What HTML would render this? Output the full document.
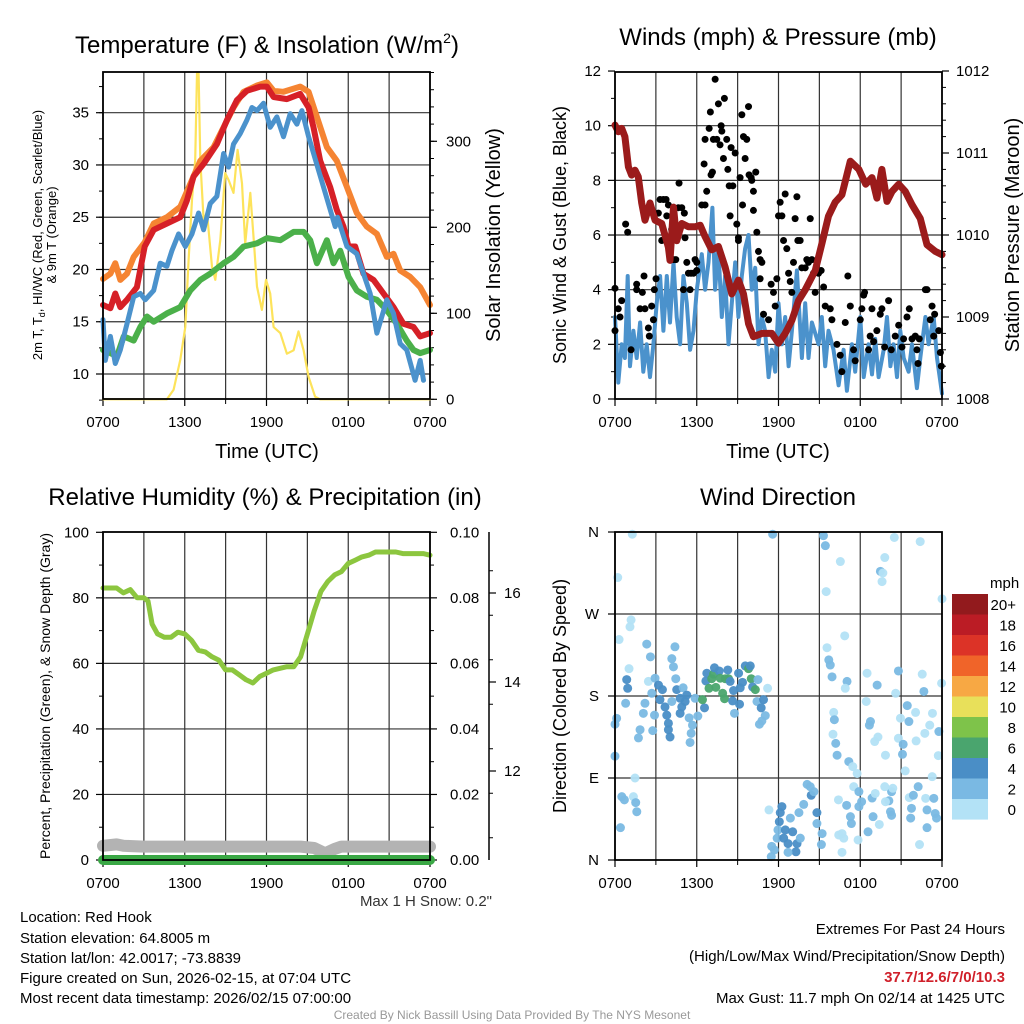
<!DOCTYPE html>
<html><head><meta charset="utf-8"><style>
html,body{margin:0;padding:0;background:#fff;}
svg{display:block;font-family:"Liberation Sans",Arial,sans-serif;}
</style></head><body>
<svg id="fig" width="1024" height="1024" viewBox="0 0 1024 1024" xmlns="http://www.w3.org/2000/svg">
<rect width="1024" height="1024" fill="#fff"/>
<g id="layer"></g>
<!-- titles -->
<text x="267" y="53" font-size="24" text-anchor="middle">Temperature (F) &amp; Insolation (W/m<tspan font-size="14" dy="-10">2</tspan><tspan dy="10">)</tspan></text>
<text x="778" y="45" font-size="24" text-anchor="middle">Winds (mph) &amp; Pressure (mb)</text>
<text x="265" y="505" font-size="24" text-anchor="middle">Relative Humidity (%) &amp; Precipitation (in)</text>
<text x="778" y="505" font-size="24" text-anchor="middle">Wind Direction</text>
<!-- axis titles -->
<text transform="translate(42,235) rotate(-90)" font-size="13" text-anchor="middle">2m T, T<tspan font-size="9" dy="3">d</tspan><tspan dy="-3">, HI/WC (Red, Green, Scarlet/Blue)</tspan></text>
<text transform="translate(56,235) rotate(-90)" font-size="13" text-anchor="middle">&amp; 9m T (Orange)</text>
<text transform="translate(500,235) rotate(-90)" font-size="20" text-anchor="middle">Solar Insolation (Yellow)</text>
<text x="267" y="458" font-size="20" text-anchor="middle">Time (UTC)</text>
<text transform="translate(566,235) rotate(-90)" font-size="18" text-anchor="middle">Sonic Wind &amp; Gust (Blue, Black)</text>
<text transform="translate(1019,235) rotate(-90)" font-size="20" text-anchor="middle">Station Pressure (Maroon)</text>
<text x="778" y="458" font-size="20" text-anchor="middle">Time (UTC)</text>
<text transform="translate(50,696) rotate(-90)" font-size="14" text-anchor="middle">Percent, Precipitation (Green), &amp; Snow Depth (Gray)</text>
<text transform="translate(566,696) rotate(-90)" font-size="18" text-anchor="middle">Direction (Colored By Speed)</text>
<text x="492" y="906" font-size="15" fill="#333" text-anchor="end">Max 1 H Snow: 0.2"</text>
<!-- colorbar labels -->
<text x="990" y="588" font-size="15">mph</text>
<!-- info block -->
<g font-size="15">
<text x="20" y="922">Location: Red Hook</text>
<text x="20" y="943">Station elevation: 64.8005 m</text>
<text x="20" y="963">Station lat/lon: 42.0017; -73.8839</text>
<text x="20" y="983">Figure created on Sun, 2026-02-15, at 07:04 UTC</text>
<text x="20" y="1003">Most recent data timestamp: 2026/02/15 07:00:00</text>
</g>
<g font-size="15" text-anchor="end">
<text x="1005" y="934">Extremes For Past 24 Hours</text>
<text x="1005" y="961">(High/Low/Max Wind/Precipitation/Snow Depth)</text>
<text x="1005" y="982" fill="#d0202a" font-weight="bold">37.7/12.6/7/0/10.3</text>
<text x="1005" y="1003">Max Gust: 11.7 mph On 02/14 at 1425 UTC</text>
</g>
<text x="512" y="1019" font-size="12" fill="#999" text-anchor="middle">Created By Nick Bassill Using Data Provided By The NYS Mesonet</text>
</svg>
<script>
// ---------- DATA ----------
const xTickLabels=["0700","1300","1900","0100","0700"];
const orangeT=[0,.54,.9,1.27,1.76,2.25,3.06,3.72,4.69,5.67,6.41,7.14,8.12,8.85,9.58,10.32,11.3,12.03,12.52,13.25,14.47,15.09,15.7,16.43,17.16,17.9,18.63,19.36,20.1,20.83,21.32,21.81,22.54,23.28,24];
const orangeV=[19.1,19.6,20.6,19,19.6,21.2,22.6,24.4,25,26,28.2,30.4,31.7,33.6,35.5,37,37.6,37.9,37.1,37,37.5,37,34.6,31.7,30.4,27.9,25.4,24.1,23.4,21.2,21.5,19.9,19.3,18.3,16.6];
const redT=[0,.54,.9,1.27,1.76,2.49,3.06,3.72,4.69,5.67,6.16,6.65,7.38,8.36,9.1,9.83,10.56,11.54,12.03,12.52,13.5,14.47,15.09,15.45,15.94,16.67,17.16,17.65,18.02,18.51,19.12,19.85,20.59,21.32,22.05,22.79,23.28,24];
const redV=[16.6,16.3,17.7,16.4,17.1,18.3,22.2,23.8,24.4,25,26.6,28.9,30.1,32,34.3,36.2,37.1,37.5,37.5,36.5,36.3,36.8,35.5,33.6,30.4,27.9,25.7,24.1,22.2,22.2,19.6,19,17.7,16.4,14.8,14.5,13.6,13.9];
const blueT=[0,.17,.54,.9,1.27,1.76,2.25,2.74,3.1,3.72,4.2,4.69,5.06,5.55,6.04,6.53,7.02,7.38,7.87,8.36,8.85,9.22,9.58,10.07,10.56,10.93,11.3,11.78,12.27,12.76,13.25,13.74,14.23,14.6,15.09,17.04,17.21,17.9,18.63,19.12,19.61,20.1,20.83,21.32,21.81,22.3,22.91,23.28,23.52];
const blueV=[15.2,11.3,13.6,11,12.3,14.8,17.4,17.7,17.1,18,20.6,20.3,21.8,23.4,22.2,23.4,25.4,23.8,26.3,27,31.1,29.8,32,33,34.3,35.5,35.2,35.9,33.6,34.6,32.7,34.9,33.9,35.2,32.7,24.1,25,22.2,21.5,19.6,17.7,13.9,17.1,15.8,12.9,12.3,9.4,11.3,9.4];
const greenT=[0,.54,1.03,1.52,2.25,2.74,3.23,3.72,4.69,5.67,6.41,7.14,7.87,8.85,9.58,10.32,11.3,12.03,13.01,13.99,14.72,15.21,15.7,16.43,16.92,17.41,18.02,18.63,19.36,20.1,20.83,21.56,22.3,22.79,23.28,24];
const greenV=[12.3,12,11.7,13.6,13.2,14.5,15.5,15,15.8,16.4,18,19,19.6,20.6,21.2,22.2,22.5,23,22.8,23.6,23.6,22.8,20.6,22.8,20.6,21.8,19.3,18,17.4,17.1,16.1,14.8,13.2,12.3,12,12.3];
const solarT=[0,4.69,5.18,5.67,6.04,6.28,6.53,6.77,6.9,7.02,7.14,7.38,7.63,8.0,8.24,8.61,8.97,9.22,9.58,9.88,10.2,10.44,10.81,11.1,11.3,11.66,11.96,12.27,12.52,13.01,13.5,13.99,14.35,14.72,15.09,15.57,15.94,24];
const solarV=[0,0,11,46,84,162,232,278,379,379,278,209,217,154,139,185,263,255,240,290,251,181,240,178,131,104,139,123,84,77,53,57,79,57,26,3,0,0];
const pressT=[0,.245,.49,.73,.98,1.22,1.47,1.71,1.96,2.2,2.57,2.94,3.43,3.92,4.04,4.29,4.53,4.9,5.39,5.88,6.25,6.61,7.1,7.59,8.08,8.57,9.06,9.43,9.8,10.16,10.78,11.51,12.0,12.49,12.98,13.47,13.96,14.7,15.19,15.67,16.16,16.65,17.27,17.9,18.4,18.86,19.22,19.59,19.96,20.33,20.82,21.31,21.8,22.41,22.9,23.51,24];
const pressV=[1011.34,1011.26,1011.3,1011.2,1010.83,1010.73,1010.79,1010.71,1010.39,1010.18,1010.39,1010.18,1010.14,1009.85,1009.69,1010.34,1009.93,1010.14,1010.1,1010.1,1010.12,1009.98,1009.82,1009.86,1009.61,1009.28,1009.45,1009.28,1008.92,1008.76,1008.8,1008.8,1008.68,1008.8,1008.96,1009.2,1009.33,1009.57,1009.9,1010.23,1010.4,1010.49,1010.9,1010.8,1010.62,1010.7,1010.45,1010.8,1010.41,1010.53,1010.62,1010.53,1010.37,1010.2,1009.88,1009.8,1009.76];
const windT=[0,.24,.49,.73,.93,1.1,1.35,1.59,1.84,2.08,2.33,2.57,2.82,3.06,3.31,3.55,3.8,4.04,4.29,4.53,4.78,5.02,5.27,5.51,5.76,6.0,6.37,6.61,6.86,7.15,7.35,7.59,7.84,8.08,8.33,8.57,8.82,9.06,9.31,9.55,9.8,10.04,10.29,10.53,10.78,11.02,11.27,11.51,11.76,12.0,12.25,12.49,12.74,12.98,13.35,13.72,13.96,14.2,14.45,14.94,15.18,15.43,15.67,16.04,16.41,16.78,17.02,17.39,17.63,18.0,18.25,18.61,18.86,19.1,19.35,19.72,19.96,20.21,20.45,20.7,20.94,21.19,21.55,21.8,22.16,22.41,22.78,23.02,23.39,23.63,24];
const windV=[3.0,0.6,2.0,1.5,4.5,1.2,2.5,1.5,2.8,1.0,2.0,0.8,2.0,3.5,4.5,2.5,4.5,2.8,5.0,3.0,2.0,4.5,3.5,1.8,2.5,4.0,5.3,4.0,5.0,7.0,4.0,5.5,3.0,4.5,2.0,3.5,5.0,3.0,4.5,5.5,6.0,4.0,4.8,2.0,3.0,2.5,0.8,1.8,1.0,3.5,2.0,3.0,1.2,2.5,4.7,1.5,3.5,1.5,2.8,2.0,3.0,1.2,2.5,1.8,0.5,1.8,0.3,2.0,1.0,3.0,0.8,2.0,0.9,2.2,0.8,1.8,3.0,1.2,2.0,0.8,2.5,1.5,1.0,2.0,0.4,1.5,3.0,2.0,3.0,1.5,0.2];
const gustT=[0,.24,.37,.49,0,.78,.93,1.18,1.59,1.59,1.84,2.01,2.13,2.2,2.45,2.52,2.69,2.82,2.89,3.01,3.18,3.31,3.43,3.55,3.75,3.8,3.92,4.16,4.29,4.46,4.65,4.7,4.9,5.09,5.14,5.27,5.39,5.58,5.76,5.88,6.0,6.0,5.51,5.02,6.37,6.61,6.73,6.54,6.61,6.91,7.0,7.15,7.05,7.22,7.35,7.47,7.59,7.71,7.79,7.84,7.96,8.03,8.2,8.28,8.38,8.45,8.52,8.65,8.82,8.94,9.06,9.06,9.18,9.31,9.36,9.43,9.55,9.67,9.8,9.84,9.99,10.04,10.16,10.16,10.33,10.41,10.53,10.65,10.78,10.65,10.9,11.27,11.46,11.63,11.76,11.88,12.0,12.12,12.25,12.37,12.49,12.61,12.74,12.86,12.98,13.1,13.22,13.35,13.42,13.59,13.71,13.96,14.08,14.2,14.33,14.45,14.57,14.69,14.94,15.13,15.31,15.43,15.8,15.92,16.29,16.53,16.65,16.9,17.09,17.27,17.51,17.63,18.0,18.12,18.25,18.32,18.61,18.73,18.86,18.98,19.22,19.47,19.59,19.79,20.08,20.28,20.57,20.82,21.06,21.18,21.43,21.6,21.8,22.04,22.16,22.24,22.33,22.78,22.9,23.14,23.27,23.46,23.39,23.76,23.88,23.95];
const gustV=[4.05,3.3,3.0,3.6,2.5,6.4,6.1,1.8,4.2,4.0,3.3,3.9,4.5,3.3,2.6,2.3,3.4,2.9,4.0,4.4,6.8,7.3,5.8,7.3,7.3,6.7,7.1,6.2,5.1,5.1,7.0,7.9,7.0,6.8,5.9,5.0,4.6,4.6,4.6,5.1,4.7,5.0,4.0,4.0,7.1,7.1,7.6,8.6,9.5,9.9,10.5,8.3,8.2,9.5,11.7,9.5,10.8,9.3,10.0,9.8,8.8,11.0,9.5,8.4,7.8,6.7,9.2,7.8,9.0,6.4,5.9,5.8,8.1,10.4,7.1,9.6,8.8,9.5,10.7,8.2,8.1,8.0,7.6,6.9,8.3,6.1,5.4,5.1,5.0,4.4,3.1,2.9,4.2,3.9,3.4,4.4,6.7,7.2,6.7,5.8,7.5,5.5,4.6,4.3,3.9,5.0,6.6,7.4,5.8,5.8,4.8,4.8,5.1,5.0,6.6,5.1,4.6,3.9,4.6,4.7,4.1,3.4,3.3,2.9,2.0,1.6,1.0,2.8,4.5,3.4,1.8,1.4,2.9,3.3,3.8,3.9,1.8,2.3,3.3,2.1,2.5,3.1,3.3,1.9,3.6,1.8,2.3,2.7,1.9,2.2,3.0,3.3,2.2,2.3,1.8,1.3,2.2,4.0,4.0,2.9,3.4,3.1,2.3,2.5,1.7,1.2];
const rhT=[0,1,1.5,2,2.5,3,3.3,3.6,4,4.5,5,5.5,6,6.5,7,7.5,8,8.5,9,9.5,10,10.5,11,11.5,12,12.5,13,13.5,14,14.5,15,15.5,16,16.5,17,17.5,18,18.5,19,19.5,20,20.5,21,21.5,22,22.5,23,23.5,24];
const rhV=[83,83,81.5,82.5,80,80,79,72,69,68,68,69.5,69,67,64,63.5,62,61,58,58,56.5,55,54,56,57,58,58.5,59,59,62,69,76,82,85,87,88,90.5,91.5,92.5,93,94,94,94,94,93.5,93.5,93.5,93.5,93];
const snowT=[0,1,1.5,3,6,9,12,14.5,15.5,16.3,17,17.5,19,21,23,24];
const snowV=[10.32,10.35,10.32,10.3,10.3,10.3,10.3,10.3,10.27,10.15,10.25,10.3,10.3,10.3,10.3,10.3];
const precipT=[0,24];
const precipV=[0,0];
const dirT=[1.27,.2,1.18,1.1,.3,1.03,2.33,2.6,2.45,.86,.93,.78,.12,0,0,1.47,.5,.69,1.35,1.52,1.6,.4,2.2,2.08,1.84,1.72,2.7,2.94,3.19,3.48,3.3,3.67,3.8,3.92,3.92,4.04,2.9,2.77,4.17,4.29,4.4,4.46,4.17,4.53,4.78,4.9,4.78,5.0,5.27,5.15,5.44,5.69,5.59,5.51,5.88,6.08,6.57,6.42,6.74,6.67,6.9,7.1,7.23,7.3,7.4,7.65,7.72,7.9,8.04,8.09,8.28,8.33,8.45,8.63,8.77,8.7,9.07,9.19,9.14,9.36,9.56,9.8,9.93,10.0,10.1,10.3,10.49,10.42,10.9,10.73,11.03,10.78,10.6,11.2,11.57,11.3,12.25,12.13,12.06,11.96,11.9,11.5,11.7,11.47,12.38,12.5,12.7,12.87,13.04,13.36,13.28,12.7,13.6,13.5,13.85,14.1,14.33,14.4,14.6,14.82,14.82,15.2,15.15,15.3,15.44,15.5,16.54,15.56,15.69,15.8,15.93,16.86,17.03,16.9,16.05,16.1,16.0,16.2,16.3,17.16,17.45,17.77,17.52,17.9,18.1,17.9,16.4,17.0,17.28,17.35,16.66,16.79,16.66,17.84,18.57,18.87,18.94,19.1,19.4,19.48,19.66,19.6,19.8,20.5,22.4,24,18.5,19.24,18.44,18.75,18.67,19.06,19.3,19.85,20.6,20.8,20.95,20.8,21.15,21.1,21.3,21.45,21.57,22.06,22.1,22.55,22.67,22.74,23.1,23.3,23.77,23.73,23.97,23.28,22.25,21.6,21.9,22.8,23.4,22.9,23.5,23.6,21.76,21.7,22.9,22.35,20.3,20.1,20.39,20.22,20.3,19.85,19.8,16.42];
const dirV=[357.6,310,263.5,256,242,210,237,223,196,198,188.5,172,155.5,149,114,90,69.5,66,69.5,63,53,35.5,172,161,143,134,183,199.5,192,187,176,168,159,150,143,135,159,142,221,212,234,199,174,187,177.5,168,161,189,181,174,156,148,139,129,177.5,158,167,176,205,196.5,188.5,199,204,211,189.5,207.5,199.5,183,177,199,208.6,199,196,174.6,161,186,205,189,171,195,213,210,213,199,190,187,198,174,176,167,158.5,152.6,149,188.5,357.6,55,58.6,52,42,33,24,15,11,3.7,24,33,18,46,31,18,9,8.4,24,52,61,83,80.5,71,75,52,40,29,17,356,345,294.6,327.6,233,219.6,214,201,246,196,188.5,162,154,138,128,115,108,102.5,95,80.5,75,64,58.6,66,60,47.6,40,29,24,8.4,22,31,68,47.6,73,39,316.8,315,305.6,332,354,349.5,286.6,205,192,174,152,148,130,135,115,183,207.5,155.6,133.6,127,116,97.8,169.5,152,162,130.7,204,185,139,148,161,141,114.6,194,91.5,80.5,68.5,71,67.7,67.7,55,51,46,56.7,46,35.5,17,75,65,78.7,53,49,64,80.5,27.5];
const dirS=[1,1,1,1,1,1,2.5,3,1,4,4,3,3,3,3,1,3,3,1,3,3,3,3,3,3,3,3,3,4,4,4,4,4,4,4,4,3,3,3,3,3,3,3,4,4,4,4,3,4,4,3,3,3,3,3,3,4,6,4,4,6,6,6,4,6,4,6,6,6,6,4,6,4,4,3,4,4,4,4,4,4,6,4,6,4,6,3,3,4,4,3,3,3,1,3,1,4,4,4,3,3,2.5,2.5,3,4,4,4,3,4,4,4,2.5,3,3,3,3,3,4,3,4,3,3,3,3,3,1,1,1,3,3,3,1,3,1,1,3,1,3,3,3,1,1,1,3,3,2.5,1,3,3,3,1,1,1,1,3,3,3,1,1,3,1,1,1,1,1,1,1,3,1,3,3,1,1,1,1,3,1,1,3,3,1,3,3,1,1,1,3,1,1,1,3,1,1,1,3,1,3,1,3,3,3,3,3,3,3,1,3,3,1,3,3,1,1,1];
const cbarLabels=["20+","18","16","14","12","10","8","6","4","2","0"];
const cbarColors=["#921a1d","#bb1c25","#dc3327","#f06429","#f7a844","#e8e05a","#7ec34a","#4aa56e","#4a8ec6","#7ab9e3","#b3e2f6"];
const tempTicks=[10,15,20,25,30,35];
const solarTicks=[0,100,200,300];
const windTicks=[0,2,4,6,8,10,12];
const pressTicks=[1008,1009,1010,1011,1012];
const rhTicks=[0,20,40,60,80,100];
const precipTicks=["0.00","0.02","0.04","0.06","0.08","0.10"];
const snowTicks=[12,14,16];
const dirTicks=["N","E","S","W","N"];

// ---------- AXES ----------
const NS="http://www.w3.org/2000/svg";
const L=document.getElementById('layer');
const PL={x0:103,x1:430}, PR={x0:615,x1:942};
const xL=t=>PL.x0+t/24*(PL.x1-PL.x0);
const xR=t=>PR.x0+t/24*(PR.x1-PR.x0);
const yTemp=v=>374-(v-10)*10.452;
const ySolar=v=>399.3-v*0.86;
const yWind=v=>399-v*27.33;
const yPress=v=>399-(v-1008)*82;
const yRH=v=>860-v*3.277;
const yPrec=v=>860-v*3277;
const ySnow=v=>771-(v-12)*44.5;
const yDir=v=>860-v*0.9111;

function el(tag,attrs,parent){const e=document.createElementNS(NS,tag);for(const k in attrs)e.setAttribute(k,attrs[k]);(parent||L).appendChild(e);return e;}
function line(x1,y1,x2,y2,stroke,w,name){const e=el('line',{x1,y1,x2,y2,stroke,'stroke-width':w});

return e;}
function txt(x,y,s,size,anchor,name){const e=el('text',{x,y,'font-size':size,'text-anchor':anchor});e.textContent=s;

return e;}
function poly(xs,ys,fx,fy,color,w,name){const d=xs.map((t,i)=>(i?'L':'M')+fx(t).toFixed(1)+','+fy(ys[i]).toFixed(1)).join('');
const e=el('path',{d,fill:'none',stroke:color,'stroke-width':w,'stroke-linejoin':'round','stroke-linecap':'round'});

return e;}

function frame(P,y0,y1,prefix){
  for(let h=0;h<=24;h+=3){const x=P.x0+h/24*(P.x1-P.x0);line(x,y0,x,y1,'#333',1.2,prefix+'-vgrid');
    if(h%6===0){line(x,y1,x,y1+7,'#000',1.2,prefix+'-x-tick');txt(x,y1+28,xTickLabels[h/6],15,'middle',prefix+'-x-tick-label');}
    else line(x,y1,x,y1+5,'#000',1,prefix+'-x-minor-tick');}
}
function border(P,y0,y1,prefix){const r=el('rect',{x:P.x0,y:y0,width:P.x1-P.x0,height:y1-y0,fill:'none',stroke:'#000','stroke-width':1.8});

}

// Panel 1
frame(PL,72,399,'temp');
tempTicks.forEach(v=>{const y=yTemp(v);line(PL.x0,y,PL.x1,y,'#333',1.2,'temp-hgrid');line(PL.x0-7,y,PL.x0,y,'#000',1.2,'temp-y-tick');txt(PL.x0-14,y+5,String(v),15,'end','temp-y-tick-label');});
for(let v=7.5;v<=38.5;v+=2.5){line(PL.x0-4,yTemp(v),PL.x0,yTemp(v),'#000',1,'temp-y-minor-tick');}
solarTicks.forEach(v=>{const y=ySolar(v);line(PL.x1,y,PL.x1+7,y,'#000',1.2,'solar-y-tick');txt(PL.x1+16,y+5,String(v),15,'start','solar-y-tick-label');});
for(let v=0;v<=380;v+=20){line(PL.x1,ySolar(v),PL.x1+4,ySolar(v),'#000',1,'solar-y-minor-tick');}
poly(solarT,solarV,xL,ySolar,'#fde35b',2.2,'solar-insolation-line');
poly(orangeT,orangeV,xL,yTemp,'#f58432',6,'9m-temperature-line');
poly(greenT,greenV,xL,yTemp,'#4bb04a',6,'dewpoint-line');
poly(redT,redV,xL,yTemp,'#d62027',6,'2m-temperature-line');
poly(blueT,blueV,xL,yTemp,'#4b92cc',5,'heat-index-windchill-line');
border(PL,72,399,'temp');

// Panel 2
frame(PR,72,399,'wind');
windTicks.forEach(v=>{const y=yWind(v);if(v>0&&v<12)line(PR.x0,y,PR.x1,y,'#333',1.2,'wind-hgrid');line(PR.x0-7,y,PR.x0,y,'#000',1.2,'wind-y-tick');txt(PR.x0-14,y+5,String(v),15,'end','wind-y-tick-label');});
for(let v=1;v<12;v+=2){line(PR.x0-4,yWind(v),PR.x0,yWind(v),'#000',1,'wind-y-minor-tick');}
pressTicks.forEach(v=>{const y=yPress(v);line(PR.x1,y,PR.x1+7,y,'#000',1.2,'pressure-y-tick');txt(PR.x1+14,y+5,String(v),15,'start','pressure-y-tick-label');});
for(let v=1008;v<=1012;v+=0.2){line(PR.x1,yPress(v),PR.x1+4,yPress(v),'#000',1,'pressure-y-minor-tick');}
poly(windT,windV,xR,yWind,'#4b92cc',4,'sonic-wind-line');
gustT.forEach((t,i)=>{const c=el('circle',{cx:xR(t),cy:yWind(gustV[i]),r:3.5,fill:'#000'});

});
poly(pressT,pressV,xR,yPress,'#9b1b1b',7,'pressure-line');
border(PR,72,399,'wind');

// Panel 3
frame(PL,532,860,'rh');
rhTicks.forEach((v,i)=>{const y=yRH(v);if(v>0&&v<100)line(PL.x0,y,PL.x1,y,'#333',1.2,'rh-hgrid');line(PL.x0-7,y,PL.x0,y,'#000',1.2,'rh-y-tick');txt(PL.x0-14,y+5,String(v),15,'end','rh-y-tick-label');
 line(PL.x1,y,PL.x1+7,y,'#000',1.2,'precip-y-tick');txt(PL.x1+20,y+5,precipTicks[i],15,'start','precip-y-tick-label');});
for(let v=10;v<100;v+=20){line(PL.x0-4,yRH(v),PL.x0,yRH(v),'#000',1,'rh-y-minor-tick');line(PL.x1,yRH(v),PL.x1+4,yRH(v),'#000',1,'precip-y-minor-tick');}
line(489,532,489,860,'#000',1.5,'snow-axis-line');
snowTicks.forEach(v=>{const y=ySnow(v);line(489,y,496,y,'#000',1.2,'snow-y-tick');txt(504,y+5,String(v),15,'start','snow-y-tick-label');});
for(let v=10.5;v<=18;v+=1){const y=ySnow(v);if(y>=532&&y<=860)line(489,y,493,y,'#000',1,'snow-y-minor-tick');}
poly(snowT,snowV,xL,ySnow,'#b3b3b3',12,'snow-depth-line');
poly(precipT,precipV,xL,yPrec,'#3aa845',10,'precipitation-line');
poly(rhT,rhV,xL,yRH,'#8cc63f',5,'relative-humidity-line');
border(PL,532,860,'rh');

// Panel 4
frame(PR,532,860,'dir');
dirTicks.forEach((s,i)=>{const y=yDir(i*90);if(i>0&&i<4)line(PR.x0,y,PR.x1,y,'#333',1.2,'dir-hgrid');line(PR.x0-7,y,PR.x0,y,'#000',1.2,'dir-y-tick');txt(PR.x0-16,y+5,s,15,'end','dir-y-tick-label');});
function spdColor(s){return s<2?"#b3e2f6":s<4?"#7ab9e3":s<6?"#4a8ec6":s<8?"#4aa56e":"#7ec34a";}
dirT.forEach((t,i)=>{const c=el('circle',{cx:xR(t),cy:yDir(dirV[i]),r:4.5,fill:spdColor(dirS[i]),'fill-opacity':0.95});

});
border(PR,532,860,'dir');

// colorbar
cbarColors.forEach((c,i)=>{const y=594+i*20.5;const r=el('rect',{x:952,y:y,width:36,height:20.6,fill:c});


txt(1016,y+16,cbarLabels[i],15,'end','colorbar-label');});
</script>
</body></html>
